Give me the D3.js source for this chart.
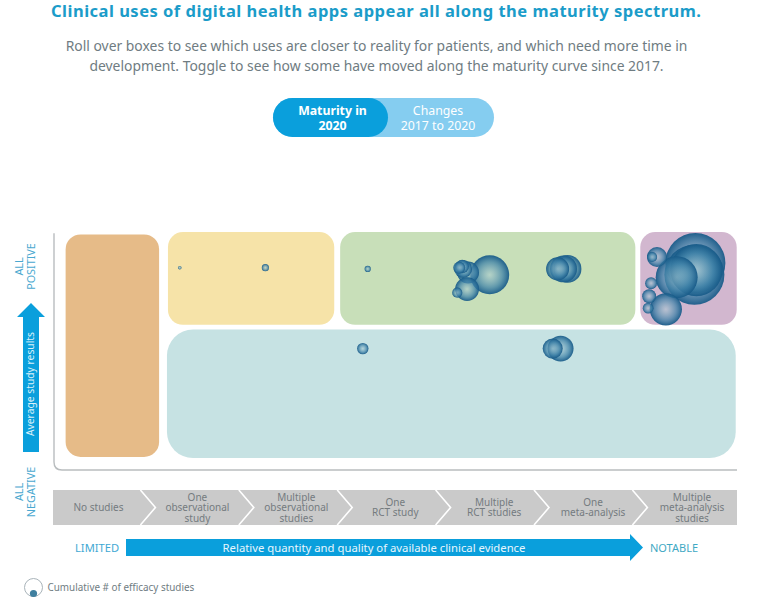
<!DOCTYPE html>
<html>
<head>
<meta charset="utf-8">
<script src="https://cdn.jsdelivr.net/npm/d3@7"></script>
<style>
  html, body { margin: 0; padding: 0; background: #fff; }
  svg { display: block; font-family: "Noto Sans", "Open Sans", sans-serif; }
</style>
</head>
<body>
<svg id="chart" width="768" height="605"></svg>
<script>
var titleText = 'Clinical uses of digital health apps appear all along the maturity spectrum.';
var introLines = [
  'Roll over boxes to see which uses are closer to reality for patients, and which need more time in',
  'development. Toggle to see how some have moved along the maturity curve since 2017.'
];

// evidence categories, left to right
var categories = [
  ['No studies'],
  ['One', 'observational', 'study'],
  ['Multiple', 'observational', 'studies'],
  ['One', 'RCT study'],
  ['Multiple', 'RCT studies'],
  ['One', 'meta-analysis'],
  ['Multiple', 'meta-analysis', 'studies']
];

// maturity boxes: evidence from/to, % positive from/to
var boxEvidence = [[0.24, 1.19], [1.28, 2.97], [3.03, 6.03], [6.08, 7.06], [1.27, 7.05]];
var boxResults = [[5.5, 99], [61, 100], [61, 100], [61, 100], [5, 59]];
var boxColors = ['#e6bb88', '#f6e3a8', '#c8dfb9', '#d2b7cf', '#c6e2e3'];

// bubbles, largest first so the small ones stay visible
var bubbleEvidence = [
  6.64, 6.63, 6.65, 6.45, 6.34, 6.25, 6.20, 6.19, 6.17, 6.16,
  4.55, 4.33, 4.32, 4.28, 4.27, 4.22, 4.24,
  5.34, 5.30, 5.24, 5.27, 5.19,
  1.40, 2.27, 3.31, 3.26
];
var bubbleResults = [
  87, 82, 84, 81, 67.5, 89.5, 89.5, 78.5, 73, 68,
  82, 83, 76, 84.5, 85.5, 74.5, 85,
  84.5, 84.5, 84.5, 51, 51,
  85, 85, 84.5, 51
];
var bubbleStudies = [
  278, 278, 210, 136, 80, 31, 8, 11, 15, 9,
  117, 37, 44, 25, 14, 8, 11,
  60, 56, 41, 52, 31,
  1, 4, 3, 10
];

var x = d3.scaleLinear().domain([0, 7]).range([42, 730.8]);
var y = d3.scaleLinear().domain([0, 100]).range([470, 232]);
var r = d3.scaleSqrt().domain([0, 400]).range([0, 36]);
var labelX = d3.scaleLinear().domain([0, 6]).range([98.5, 692]);

var svg = d3.select('#chart');
var defs = svg.append('defs');

var grad = defs.append('radialGradient').attr('id', 'bubble');
grad.append('stop').attr('offset', '0%').attr('stop-color', '#a4c8d2').attr('stop-opacity', 0.55);
grad.append('stop').attr('offset', '65%').attr('stop-color', '#3f82a8').attr('stop-opacity', 0.75);
grad.append('stop').attr('offset', '100%').attr('stop-color', '#175a88').attr('stop-opacity', 0.95);

// header
svg.append('text')
  .attr('x', 376).attr('y', 17)
  .attr('text-anchor', 'middle')
  .attr('font-size', 16.5).attr('font-weight', 700)
  .attr('textLength', 650)
  .attr('fill', '#1b9cc9')
  .text(titleText);

svg.selectAll('.intro').data(introLines).join('text')
  .attr('class', 'intro')
  .attr('x', 376.5)
  .attr('y', function(d, i) { return 50.5 + i * 20.5; })
  .attr('text-anchor', 'middle')
  .attr('font-size', 13.9)
  .attr('fill', '#6f7c82')
  .text(function(d) { return d; });

// toggle
svg.append('rect').attr('x', 273).attr('y', 98).attr('width', 221).attr('height', 39).attr('rx', 19.5).attr('fill', '#85cdf0');
svg.append('rect').attr('x', 273).attr('y', 98).attr('width', 115).attr('height', 39).attr('rx', 19.5).attr('fill', '#0a9fdc');

function toggleLabel(cx, lines, weight) {
  svg.selectAll(null).data(lines).join('text')
    .attr('x', cx)
    .attr('y', function(d, i) { return 114.5 + i * 15.5; })
    .attr('text-anchor', 'middle')
    .attr('font-size', 12.3).attr('font-weight', weight)
    .attr('fill', '#fff')
    .text(function(d) { return d; });
}
toggleLabel(332.5, ['Maturity in', '2020'], 700);
toggleLabel(438, ['Changes', '2017 to 2020'], 400);

// axis frame
svg.append('path')
  .attr('d', 'M54,' + y(99.5) + 'V' + (y(0) - 8) + 'Q54,' + y(0) + ' 62,' + y(0) + 'H737')
  .attr('fill', 'none').attr('stroke', '#b9bdbf').attr('stroke-width', 1.4);

// boxes
svg.selectAll('.box').data(boxEvidence).join('rect')
  .attr('class', 'box')
  .attr('x', function(d) { return x(d[0]); })
  .attr('width', function(d) { return x(d[1]) - x(d[0]); })
  .attr('y', function(d, i) { return y(boxResults[i][1]); })
  .attr('height', function(d, i) { return y(boxResults[i][0]) - y(boxResults[i][1]); })
  .attr('rx', function(d, i) { return i == 4 ? 26 : 15; })
  .attr('fill', function(d, i) { return boxColors[i]; });

// bubbles
svg.selectAll('.bubble').data(bubbleStudies).join('circle')
  .attr('class', 'bubble')
  .attr('cx', function(d, i) { return x(bubbleEvidence[i]); })
  .attr('cy', function(d, i) { return y(bubbleResults[i]); })
  .attr('r', function(d) { return r(d); })
  .attr('fill', 'url(#bubble)');

// category strip
svg.append('rect')
  .attr('x', 53).attr('y', 490).attr('width', 684).attr('height', 35)
  .attr('fill', '#cacaca');

var chevron = d3.line();
svg.selectAll('.sep').data(d3.range(1, 7)).join('path')
  .attr('class', 'sep')
  .attr('d', function(d) {
    return chevron([[x(d), 490], [x(d) + 15, 507.5], [x(d), 525]]);
  })
  .attr('fill', 'none').attr('stroke', '#fff').attr('stroke-width', 1.6);

var catLabels = svg.selectAll('.cat').data(categories).join('text')
  .attr('class', 'cat')
  .attr('text-anchor', 'middle')
  .attr('font-size', 10)
  .attr('fill', '#747b7f');
catLabels.each(function(lines, c) {
  var top = 511 - (lines.length - 1) * 5.2;
  d3.select(this).selectAll('tspan').data(lines).join('tspan')
    .attr('x', labelX(c))
    .attr('y', function(d, i) { return top + i * 10.5; })
    .text(function(d) { return d; });
});

// horizontal arrow
svg.append('path')
  .attr('d', 'M126,539H630V534L643,547.5L630,561V556H126Z')
  .attr('fill', '#0a9fdc');
svg.append('text')
  .attr('x', 374).attr('y', 551.5)
  .attr('text-anchor', 'middle').attr('font-size', 11.3).attr('fill', '#e8f6fc')
  .text('Relative quantity and quality of available clinical evidence');
svg.append('text').attr('x', 75).attr('y', 552)
  .attr('font-size', 11.2).attr('fill', '#3fa9d4').text('LIMITED');
svg.append('text').attr('x', 650).attr('y', 552)
  .attr('font-size', 11).attr('fill', '#3fa9c4').text('NOTABLE');

// vertical arrow
svg.append('path')
  .attr('d', 'M23,452V317H17L31,303L45,317H39V452Z')
  .attr('fill', '#0a9fdc');
svg.append('text')
  .attr('transform', 'translate(34,384) rotate(-90)')
  .attr('text-anchor', 'middle').attr('font-size', 10.3).attr('fill', '#d9f0fa')
  .text('Average study results');

function yEnd(cy, lines) {
  svg.selectAll(null).data(lines).join('text')
    .attr('transform', function(d, i) { return 'translate(' + (23 + i * 12) + ',' + cy + ') rotate(-90)'; })
    .attr('text-anchor', 'middle')
    .attr('font-size', 10.8)
    .attr('fill', '#4aa8d0')
    .text(function(d) { return d; });
}
yEnd(266.5, ['ALL', 'POSITIVE']);
yEnd(492, ['ALL', 'NEGATIVE']);

// size legend
svg.append('circle').attr('cx', 33.5).attr('cy', 587.5).attr('r', 9)
  .attr('fill', '#fff').attr('stroke', '#a9b4ba').attr('stroke-width', 1);
svg.append('circle').attr('cx', 33.5).attr('cy', 593.5).attr('r', r(4))
  .attr('fill', '#3f7f9f');
svg.append('text').attr('x', 47.5).attr('y', 591)
  .attr('font-size', 9.9).attr('fill', '#6f7c82').text('Cumulative # of efficacy studies');
</script>
</body>
</html>
